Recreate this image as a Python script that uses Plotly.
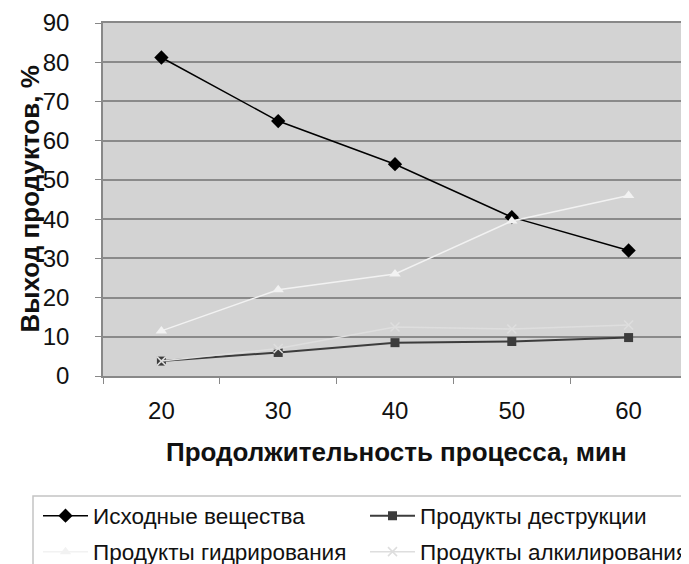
import plotly.graph_objects as go

categories = ["20", "30", "40", "50", "60"]
ishodnye = [81.2, 65.0, 54.0, 40.5, 32.0]
destrukcii = [3.8, 6.0, 8.5, 8.8, 9.8]
gidrirovaniya = [11.5, 22.0, 26.0, 39.5, 46.0]
alkilirovaniya = [3.8, 7.0, 12.5, 12.0, 13.0]
y_ticks = [0, 10, 20, 30, 40, 50, 60, 70, 80, 90]

FONT = "Liberation Sans, Arial, sans-serif"
# the page body adds an 8px offset, so the figure is drawn 8px smaller
W, H = 681, 556
L, R, T, B = 95, 2, 15, 188
PW, PH = W - L - R, H - T - B


def px_x(x):
    return (x - L) / PW


def px_y(y):
    return (H - B - y) / PH


fig = go.Figure()
fig.add_trace(go.Scatter(x=categories, y=ishodnye, name="Исходные вещества", legend="legend",
                         mode="lines+markers", line=dict(color="#000000", width=1.5),
                         marker=dict(symbol="diamond", size=11, color="#000000")))
fig.add_trace(go.Scatter(x=categories, y=destrukcii, name="Продукты деструкции", legend="legend2",
                         mode="lines+markers", line=dict(color="#3c3c3c", width=2),
                         marker=dict(symbol="square", size=9, color="#3c3c3c")))
fig.add_trace(go.Scatter(x=categories, y=gidrirovaniya, name="Продукты гидрирования", legend="legend3",
                         mode="lines+markers", line=dict(color="#f2f2f2", width=1.5),
                         marker=dict(symbol="triangle-up", size=10, color="#f2f2f2")))
fig.add_trace(go.Scatter(x=categories, y=alkilirovaniya, name="Продукты алкилирования", legend="legend4",
                         mode="lines+markers", line=dict(color="#dedede", width=1.5),
                         marker=dict(symbol="x-thin", size=9, color="#dedede",
                                     line=dict(color="#dedede", width=1.5))))

leg_common = dict(orientation="h", xref="container", yref="container",
                  xanchor="left", yanchor="middle", itemwidth=45,
                  bgcolor="rgba(0,0,0,0)", borderwidth=0,
                  font=dict(family=FONT, size=22.5, color="#111111"))
col1, col2 = 30, 357
row1, row2 = 508, 544

fig.update_layout(
    width=W, height=H,
    margin=dict(l=L, r=R, t=T, b=B, autoexpand=False),
    paper_bgcolor="#ffffff",
    plot_bgcolor="#d3d3d3",
    font=dict(family=FONT, color="#111111"),
    showlegend=True,
    legend=dict(leg_common, x=col1 / W, y=1 - row1 / H),
    legend2=dict(leg_common, x=col2 / W, y=1 - row1 / H),
    legend3=dict(leg_common, x=col1 / W, y=1 - row2 / H),
    legend4=dict(leg_common, x=col2 / W, y=1 - row2 / H),
)
fig.update_xaxes(type="category", showgrid=False, tickson="boundaries",
                 ticks="outside", ticklen=6, tickcolor="#888888", ticklabelstandoff=12,
                 tickfont=dict(family=FONT, size=24, color="#111111"),
                 showline=True, linecolor="#888888", linewidth=1.5, mirror=True,
                 range=[-0.5, 4.5])
fig.update_yaxes(range=[0, 90], tickvals=y_ticks, showgrid=True, gridcolor="#8a8a8a",
                 gridwidth=1.5, ticks="outside", ticklen=6, tickcolor="#888888",
                 ticklabelstandoff=21,
                 tickfont=dict(family=FONT, size=24, color="#111111"),
                 showline=True, linecolor="#888888", linewidth=1.5, mirror=True,
                 zeroline=False)

# legend frame
fig.add_shape(type="rect", xref="paper", yref="paper",
              x0=px_x(25), x1=px_x(700), y0=px_y(488), y1=px_y(580),
              line=dict(color="#c4c4c4", width=1.5), fillcolor="rgba(0,0,0,0)")

fig.add_annotation(text="<b>Продолжительность процесса, мин</b>", xref="paper", yref="paper",
                   x=px_x(388), y=px_y(444), xanchor="center", yanchor="middle",
                   showarrow=False, font=dict(family=FONT, size=26, color="#111111"))
fig.add_annotation(text="<b>Выход продуктов, %</b>", xref="paper", yref="paper",
                   x=px_x(21), y=0.5, xanchor="center", yanchor="middle", showarrow=False,
                   textangle=-90, font=dict(family=FONT, size=26, color="#111111"))

fig.write_html("out.html")
